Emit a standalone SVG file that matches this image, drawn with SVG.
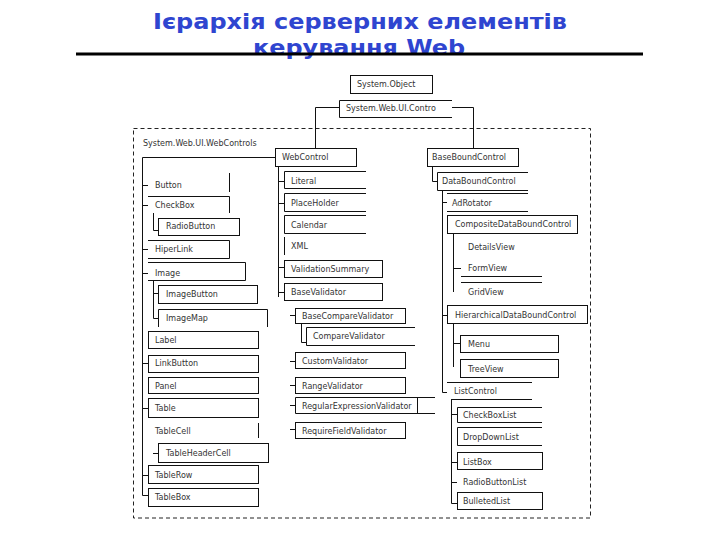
<svg xmlns="http://www.w3.org/2000/svg" width="720" height="540" viewBox="0 0 720 540">
<style>
.title{font-family:"DejaVu Sans",Verdana,sans-serif;font-weight:bold;font-size:22px;fill:#2F45D0}
.t{font-family:"DejaVu Sans",Verdana,sans-serif;font-size:8px;fill:#333}
.b{fill:none;stroke:#111;stroke-width:1}
.c{fill:none;stroke:#111;stroke-width:1}
</style>
<rect width="720" height="540" fill="#fff"/>
<g id="title">
<text class="title" x="153" y="29" textLength="414" lengthAdjust="spacingAndGlyphs">Ієрархія серверних елементів</text>
<text class="title" x="253" y="55" textLength="212" lengthAdjust="spacingAndGlyphs">керування Web</text>
<line x1="76" y1="54" x2="643" y2="54" stroke="#000" stroke-width="3"/>
</g>
<g id="container">
<rect x="133.5" y="128.5" width="457" height="389.5" fill="none" stroke="#222" stroke-width="1" stroke-dasharray="4,3"/>
<text class="t" x="143" y="146">System.Web.UI.WebControls</text>
</g>
<g id="connectors" class="c">
<path class="c" d="M339,107.5H315.5V148M452,107.5H473.5V148"/>
<path class="c" d="M142.5,157.5H275M142.5,157.5V495.5H148"/>
<path class="c" d="M142,185.5H148M142,205.5H148M142,249.5H148M142,273.5H148M142,363.5H148M142,408.5H148M142,475.5H148"/>
<path class="c" d="M153.5,213V230.5H158M153.5,280V318.5H158M153,293.5H158M153,453.5H158"/>
<path class="c" d="M278.5,166V297M278,181.5H284M278,203.5H284M278,267.5H284M278,292.5H284"/>
<path class="c" d="M290,315.5H295M301.5,323V342.5H306M290,361.5H295M290,385.5H295M290,405.5H295M290,429.5H295"/>
<path class="c" d="M432.5,166V181.5H437M442.5,190V392.5H447M442,202.5H447M442,315.5H447"/>
<path class="c" d="M453.5,233V292M453,268.5H461M453.5,323V367M453,343.5H460"/>
<path class="c" d="M451.5,399V503.5H457M451,414.5H457M451,462.5H457M451,482.5H457"/>
</g>
<g id="SystemObject"><rect class="b" x="350.5" y="75.5" width="82" height="18"/><text class="t" x="357" y="87">System.Object</text></g>
<g id="SystemWebUIControl"><path class="b" d="M452,100.5H339.5V117.5H452"/><text class="t" x="346" y="111">System.Web.UI.Contro</text></g>
<g id="WebControl"><rect class="b" x="275.5" y="148.5" width="81" height="18"/><text class="t" x="282" y="160">WebControl</text></g>
<g id="Button"><path class="b" d="M229.5,173V192"/><text class="t" x="155" y="188">Button</text></g>
<g id="CheckBox"><path class="b" d="M148,196.5H229.5V213"/><text class="t" x="155" y="208">CheckBox</text></g>
<g id="RadioButton"><rect class="b" x="158.5" y="218.5" width="81" height="17"/><text class="t" x="166" y="229">RadioButton</text></g>
<g id="HiperLink"><path class="b" d="M148,240.5H229.5V258.5H148"/><text class="t" x="155" y="252">HiperLink</text></g>
<g id="Image"><path class="b" d="M148,262.5H245.5V280.5H148"/><text class="t" x="155" y="276">Image</text></g>
<g id="ImageButton"><rect class="b" x="158.5" y="285.5" width="99" height="18"/><text class="t" x="166" y="297">ImageButton</text></g>
<g id="ImageMap"><path class="b" d="M158.5,327V309.5H267.5V327"/><text class="t" x="166" y="321">ImageMap</text></g>
<g id="Label"><rect class="b" x="148.5" y="331.5" width="110" height="17"/><text class="t" x="155" y="343">Label</text></g>
<g id="LinkButton"><rect class="b" x="148.5" y="355.5" width="110" height="17"/><text class="t" x="155" y="366">LinkButton</text></g>
<g id="Panel"><rect class="b" x="148.5" y="377.5" width="110" height="16"/><text class="t" x="155" y="389">Panel</text></g>
<g id="Table"><rect class="b" x="148.5" y="398.5" width="110" height="19"/><text class="t" x="155" y="411">Table</text></g>
<g id="TableCell"><path class="b" d="M258.5,423V438"/><text class="t" x="155" y="434">TableCell</text></g>
<g id="TableHeaderCell"><rect class="b" x="158.5" y="443.5" width="110" height="19"/><text class="t" x="166" y="456">TableHeaderCell</text></g>
<g id="TableRow"><rect class="b" x="148.5" y="465.5" width="110" height="18"/><text class="t" x="155" y="478">TableRow</text></g>
<g id="TableBox"><rect class="b" x="148.5" y="488.5" width="110" height="18"/><text class="t" x="155" y="500">TableBox</text></g>
<g id="Literal"><path class="b" d="M366,171.5H284.5V188.5H366"/><text class="t" x="291" y="184">Literal</text></g>
<g id="PlaceHolder"><path class="b" d="M366,193.5H284.5V211.5H366"/><text class="t" x="291" y="206">PlaceHolder</text></g>
<g id="Calendar"><path class="b" d="M366,215.5H284.5V233.5H366"/><text class="t" x="291" y="228">Calendar</text></g>
<g id="XML"><path class="b" d="M284.5,237V255"/><text class="t" x="291" y="249">XML</text></g>
<g id="ValidationSummary"><rect class="b" x="284.5" y="260.5" width="98" height="17"/><text class="t" x="291" y="272">ValidationSummary</text></g>
<g id="BaseValidator"><rect class="b" x="284.5" y="283.5" width="98" height="17"/><text class="t" x="291" y="295">BaseValidator</text></g>
<g id="BaseCompareValidator"><rect class="b" x="295.5" y="308.5" width="110" height="15"/><text class="t" x="302" y="319">BaseCompareValidator</text></g>
<g id="CompareValidator"><path class="b" d="M415,327.5H306.5V345.5H415"/><text class="t" x="313" y="339">CompareValidator</text></g>
<g id="CustomValidator"><rect class="b" x="295.5" y="352.5" width="110" height="16"/><text class="t" x="302" y="364">CustomValidator</text></g>
<g id="RangeValidator"><rect class="b" x="295.5" y="377.5" width="110" height="16"/><text class="t" x="302" y="389">RangeValidator</text></g>
<g id="RegularExpressionValidator"><path class="b" d="M435,397.5H295.5V413.5H435M417.5,397.5V413.5"/><text class="t" x="302" y="409">RegularExpressionValidator</text></g>
<g id="RequireFieldValidator"><rect class="b" x="295.5" y="422.5" width="110" height="16"/><text class="t" x="302" y="434">RequireFieldValidator</text></g>
<g id="BaseBoundControl"><rect class="b" x="427.5" y="148.5" width="91" height="18"/><text class="t" x="432" y="160">BaseBoundControl</text></g>
<g id="DataBoundControl"><path class="b" d="M528,172.5H437.5V190.5H528"/><text class="t" x="442" y="184">DataBoundControl</text></g>
<g id="AdRotator"><path class="b" d="M447,193.5H528M447,211.5H528"/><text class="t" x="452" y="206">AdRotator</text></g>
<g id="CompositeDataBoundControl"><rect class="b" x="447.5" y="215.5" width="130" height="18"/><text class="t" x="455" y="227">CompositeDataBoundControl</text></g>
<g id="DetailsView"><text class="t" x="468" y="250">DetailsView</text></g>
<g id="FormView"><path class="b" d="M461,276.5H542M461,282.5H542"/><text class="t" x="468" y="271">FormView</text></g>
<g id="GridView"><text class="t" x="468" y="295">GridView</text></g>
<g id="HierarchicalDataBoundControl"><rect class="b" x="447.5" y="305.5" width="140" height="18"/><text class="t" x="455" y="318">HierarchicalDataBoundControl</text></g>
<g id="Menu"><rect class="b" x="460.5" y="335.5" width="98" height="17"/><text class="t" x="468" y="347">Menu</text></g>
<g id="TreeView"><rect class="b" x="460.5" y="359.5" width="98" height="18"/><text class="t" x="468" y="372">TreeView</text></g>
<g id="ListControl"><path class="b" d="M447,382.5H532M451,399.5H532"/><text class="t" x="454" y="394">ListControl</text></g>
<g id="CheckBoxList"><path class="b" d="M542,407.5H457.5V422.5H542"/><text class="t" x="463" y="418">CheckBoxList</text></g>
<g id="DropDownList"><path class="b" d="M542,427.5H457.5V445.5H542"/><text class="t" x="463" y="440">DropDownList</text></g>
<g id="ListBox"><rect class="b" x="457.5" y="452.5" width="85" height="17"/><text class="t" x="463" y="465">ListBox</text></g>
<g id="RadioButtonList"><text class="t" x="463" y="485">RadioButtonList</text></g>
<g id="BulletedList"><rect class="b" x="457.5" y="492.5" width="85" height="17"/><text class="t" x="463" y="504">BulletedList</text></g>
</svg>
